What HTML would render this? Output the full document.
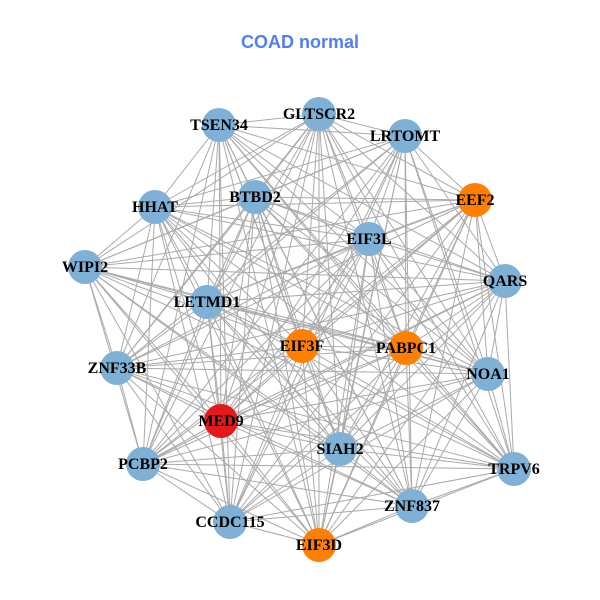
<!DOCTYPE html>
<html><head><meta charset="utf-8"><style>
html,body{margin:0;padding:0;background:#fff;}
svg{display:block}
</style></head><body>
<svg id="g" width="600" height="600" xmlns="http://www.w3.org/2000/svg">
<rect width="600" height="600" fill="#fff"/>
<text x="300" y="48" text-anchor="middle" font-family="Liberation Sans, sans-serif" font-weight="bold" font-size="18" fill="#4f7ff0">COAD normal</text>
<g id="edges" stroke="#aaaaaa" stroke-width="1"></g>
<g id="nodes"></g>
</svg>
<script>
var N=[
["TSEN34",219,125,"b"],["GLTSCR2",319,114,"b"],["LRTOMT",405,136,"b"],["BTBD2",255,197,"b"],
["HHAT",155,207,"b"],["EEF2",475,200,"o"],["EIF3L",369,239,"b"],["WIPI2",85,267,"b"],
["QARS",505,281,"b"],["LETMD1",207,302,"b"],["EIF3F",302,346,"o"],["PABPC1",406,348,"o"],
["ZNF33B",117,368,"b"],["NOA1",488,374,"b"],["MED9",221,421,"r"],["SIAH2",340,449,"b"],
["PCBP2",143,464,"b"],["TRPV6",514,469,"b"],["ZNF837",412,506,"b"],["CCDC115",230,522,"b"],
["EIF3D",319,545,"o"]];
var col={b:"#7fb0d5",o:"#ff8000",r:"#e3191c"};
var E=document.getElementById("edges"),G=document.getElementById("nodes"),ns="http://www.w3.org/2000/svg";
var skip={"0-7":1};
for(var i=0;i<N.length;i++)for(var j=i+1;j<N.length;j++){
 if(skip[i+"-"+j])continue;
 var l=document.createElementNS(ns,"line");
 l.setAttribute("x1",N[i][1]);l.setAttribute("y1",N[i][2]);
 l.setAttribute("x2",N[j][1]);l.setAttribute("y2",N[j][2]);E.appendChild(l);}
N.forEach(function(n){
 var c=document.createElementNS(ns,"circle");
 c.setAttribute("cx",n[1]);c.setAttribute("cy",n[2]);c.setAttribute("r",17);
 c.setAttribute("fill",col[n[3]]);G.appendChild(c);
 var t=document.createElementNS(ns,"text");
 t.setAttribute("x",n[1]);t.setAttribute("y",n[2]+5);t.setAttribute("text-anchor","middle");
 t.setAttribute("font-family","Liberation Serif, serif");t.setAttribute("font-weight","bold");
 t.setAttribute("font-size","16");t.setAttribute("fill","#000");t.textContent=n[0];G.appendChild(t);});
</script>
</body></html>
